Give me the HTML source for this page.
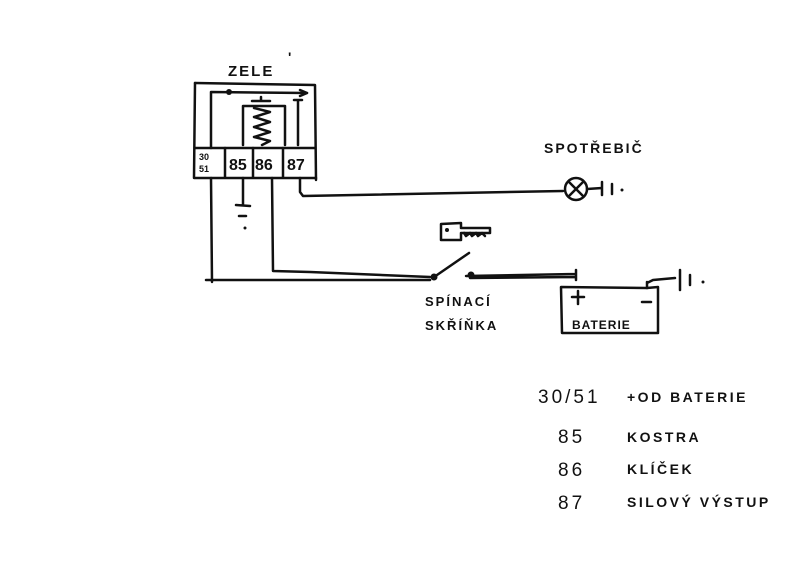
<!DOCTYPE html>
<html><head><meta charset="utf-8"><style>
html,body{margin:0;padding:0;background:#fff;}
svg{display:block;}
text{font-family:"Liberation Sans",sans-serif;fill:#111;}
</style></head><body>
<svg width="800" height="566" viewBox="0 0 800 566" xmlns="http://www.w3.org/2000/svg">
<rect width="800" height="566" fill="#fff"/>
<g stroke="#111" stroke-width="2.5" fill="none" stroke-linecap="round" stroke-linejoin="round">
<!-- relay -->
<path d="M195 83 L315 85 L316 180"/>
<path d="M195 83 L194 178 L316 178"/>
<path d="M195 148 L315 148"/>
<path d="M225 148 L225 177 M253 148 L253 177 M283 148 L283 177"/>
<path d="M211 148 L211 92 L307 93"/>
<path d="M300 90 L307 93 L300 96"/>
<path d="M298 100 L298 145 M294 100 L302 100"/>
<path d="M243 145 L243 106 L285 106 L285 145"/>
<path d="M252 101 L270 101 M261 97 L261 101"/>
<path d="M254 108 L270 112 L254 117 L270 122 L254 127 L270 132 L254 137 L270 141 L262 145"/>
<!-- 30/51 wire -->
<path d="M211 178 L212 282"/>
<!-- 85 ground -->
<path d="M243 178 L243 205 M236 205 L250 206 M239 216 L246 216"/>
<!-- 86 wire -->
<path d="M272 178 L273 271 L310 272 L430 277"/>
<path d="M206 280 L430 280"/>
<!-- 87 wire -->
<path d="M300 178 L300 192 L303 196 L563 191"/>
<!-- lamp -->
<circle cx="576" cy="189" r="11"/>
<path d="M569 182 L583 196 M583 182 L569 196"/>
<path d="M587 189 L602 188 M602 182 L602 195 M612 184 L612 194"/>
<!-- switch -->
<path d="M437 275 L469 253"/>
<path d="M466 276 L575 274 M470 278 L575 277 M576 270 L576 280"/>
<!-- key -->
<path d="M441 224 L461 223 L461 228 L490 228 L490 233 L461 233 L461 240 L441 240 Z"/>
<path d="M464 233 L466 236 L470 233 L472 236 L476 233 L478 236 L482 233 L485 236"/>
<!-- battery -->
<path d="M561 287 L647 288 L658 287 L658 333 L562 333 Z"/>
<path d="M647 288 L647 282 M647 283 L653 280 L675 278 M680 270 L680 290 M690 275 L690 285"/>
<path d="M572 297 L584 297 M578 291 L578 304 M642 302 L651 302"/>
</g>
<g fill="#111">
<circle cx="229" cy="92" r="3"/>
<circle cx="434" cy="277" r="3.5"/>
<circle cx="471" cy="275" r="3.5"/>
<circle cx="447" cy="230" r="2"/>
<circle cx="245" cy="228" r="1.5"/>
<circle cx="622" cy="190" r="1.5"/>
<circle cx="703" cy="282" r="1.5"/>
</g>
<g font-size="15" font-weight="bold" letter-spacing="2">
<text x="228" y="76">ZELE</text>
<text x="288" y="62" font-size="14">'</text>
<text x="544" y="153" font-size="14">SPOTŘEBIČ</text>
<text x="425" y="306" font-size="13">SPÍNACÍ</text>
<text x="425" y="330" font-size="13">SKŘÍŇKA</text>
<text x="572" y="329" font-size="12" letter-spacing="1">BATERIE</text>
</g>
<g font-size="9" font-weight="bold"><text x="199" y="160">30</text><text x="199" y="172">51</text></g>
<g font-size="16" font-weight="bold"><text x="229" y="170">85</text><text x="255" y="170">86</text><text x="287" y="170">87</text></g>
<g font-size="19" letter-spacing="3">
<text x="538" y="403">30/51</text>
<text x="558" y="443">85</text>
<text x="558" y="476">86</text>
<text x="558" y="509">87</text>
</g>
<g font-size="14" font-weight="bold" letter-spacing="2.5">
<text x="627" y="402">+OD BATERIE</text>
<text x="627" y="442">KOSTRA</text>
<text x="627" y="474">KLÍČEK</text>
<text x="627" y="507">SILOVÝ VÝSTUP</text>
</g>
</svg>
</body></html>
